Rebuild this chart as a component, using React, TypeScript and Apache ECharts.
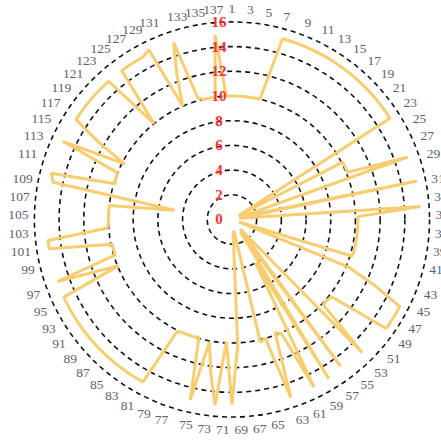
import React, { useEffect, useRef } from "react";
import * as echarts from "echarts";

const categories: string[] = [];
for (let i = 1; i <= 138; i++) categories.push(String(i));

const radiusTicks = [0, 2, 4, 6, 8, 10, 12, 14, 16];

// values, category 1..138
const values: number[] = [
  10, 10, 10, 10, 10, 10, 15.2, 15.2, 15.2, 15.2, // 1-10
  15.2, 15.2, 15.2, 15.2, 15.2, 15.2, 15.2, 15.2, 15.2, 15.2, // 11-20
  15.2, 15.2, 15.2, 0.6, 10.1, 10.1, 10.1, 15.1, 0.6, 0.6, // 21-30
  15.3, 0.6, 0.6, 15.3, 10.2, 10.2, 10.2, 10.2, 10.2, 10.2, // 31-40
  10.2, 10.2, 0.6, 10.2, 12.7, 15.3, 15.3, 15.3, 15.3, 10.2, // 41-50
  10.1, 10.1, 15.1, 1, 1, 14.8, 1.2, 15.1, 4, 15.1, // 51-60
  10.1, 9.8, 15.2, 10, 10.2, 1, 1, 1, 10.2, 15, // 61-70
  9.9, 15.1, 12.6, 10.1, 15, 9.9, 10, 10, 10, 10.1, // 71-80
  15, 15, 15, 15, 15, 15, 15, 15, 15, 15, // 81-90
  15, 15, 15, 15, 15, 9.9, 15, 9.9, 9.9, 9.9, // 91-100
  15, 15, 10.1, 10, 10, 10, 10, 4.7, 14.8, 15.1, // 101-110
  9.9, 10, 10, 15.1, 9.8, 12.4, 15, 15, 15, 15, // 111-120
  15, 15, 15, 10, 15, 15, 15, 15, 15.3, 10, // 121-130
  12.5, 15.1, 10.2, 10, 10, 10, 15, 10, // 131-138
];

export default function App() {
  const ref = useRef<HTMLDivElement>(null);
  useEffect(() => {
    if (!ref.current) return;
    const chart = echarts.init(ref.current, undefined, { renderer: "svg" });
    const n = categories.length;
    // polar data order is [radius, angle]; the loop closes back on the first category
    const pts: number[][] = values.map((v, i) => [v, i]);
    pts.push([values[0], n]);
    const center = ["52.6%", "49.1%"];
    chart.setOption({
      animation: false,
      polar: [
        { center, radius: "89.6%" },
        { center, radius: "89.6%" },
      ],
      angleAxis: [
        {
          polarIndex: 0,
          type: "value",
          min: 0,
          max: n,
          startAngle: 90,
          clockwise: true,
          axisLine: { show: false },
          axisTick: { show: false },
          axisLabel: { show: false },
          splitLine: { show: false },
        },
        {
          polarIndex: 1,
          type: "category",
          data: categories,
          startAngle: 90,
          clockwise: true,
          boundaryGap: false,
          axisLine: { show: false },
          axisTick: { show: false },
          splitLine: { show: false },
          axisLabel: {
            interval: 1,
            color: "#5a5f6e",
            fontFamily: "Liberation Serif",
            fontSize: 13.5,
            margin: 6,
          },
        },
      ],
      radiusAxis: [
        {
          polarIndex: 0,
          type: "value",
          min: 0,
          max: 16,
          interval: 2,
          axisLine: { show: false },
          axisTick: { show: false },
          axisLabel: { show: false },
          splitLine: {
            show: true,
            lineStyle: { type: [5, 4], color: "#111", width: 1.6 },
          },
        },
        {
          polarIndex: 1,
          type: "value",
          min: 0,
          max: 16,
          interval: 2,
          z: 10,
          axisLine: { show: false },
          axisTick: { show: false },
          splitLine: { show: false },
          axisLabel: {
            color: "#ff3030",
            fontFamily: "Liberation Serif",
            fontWeight: "bold",
            fontSize: 15,
            align: "center",
            margin: 0,
            padding: [0, 26, 0, 0],
            formatter: (v: number) => (radiusTicks.includes(v) ? String(v) : ""),
          },
        },
      ],
      series: [
        {
          type: "line",
          coordinateSystem: "polar",
          polarIndex: 0,
          data: pts,
          symbol: "none",
          clip: false,
          lineStyle: { color: "#f7cd6f", width: 3 },
        },
      ],
    });
    return () => chart.dispose();
  }, []);
  return (
    <div
      ref={ref}
      style={{ position: "absolute", left: 0, top: 0, width: 441, height: 447 }}
    />
  );
}
